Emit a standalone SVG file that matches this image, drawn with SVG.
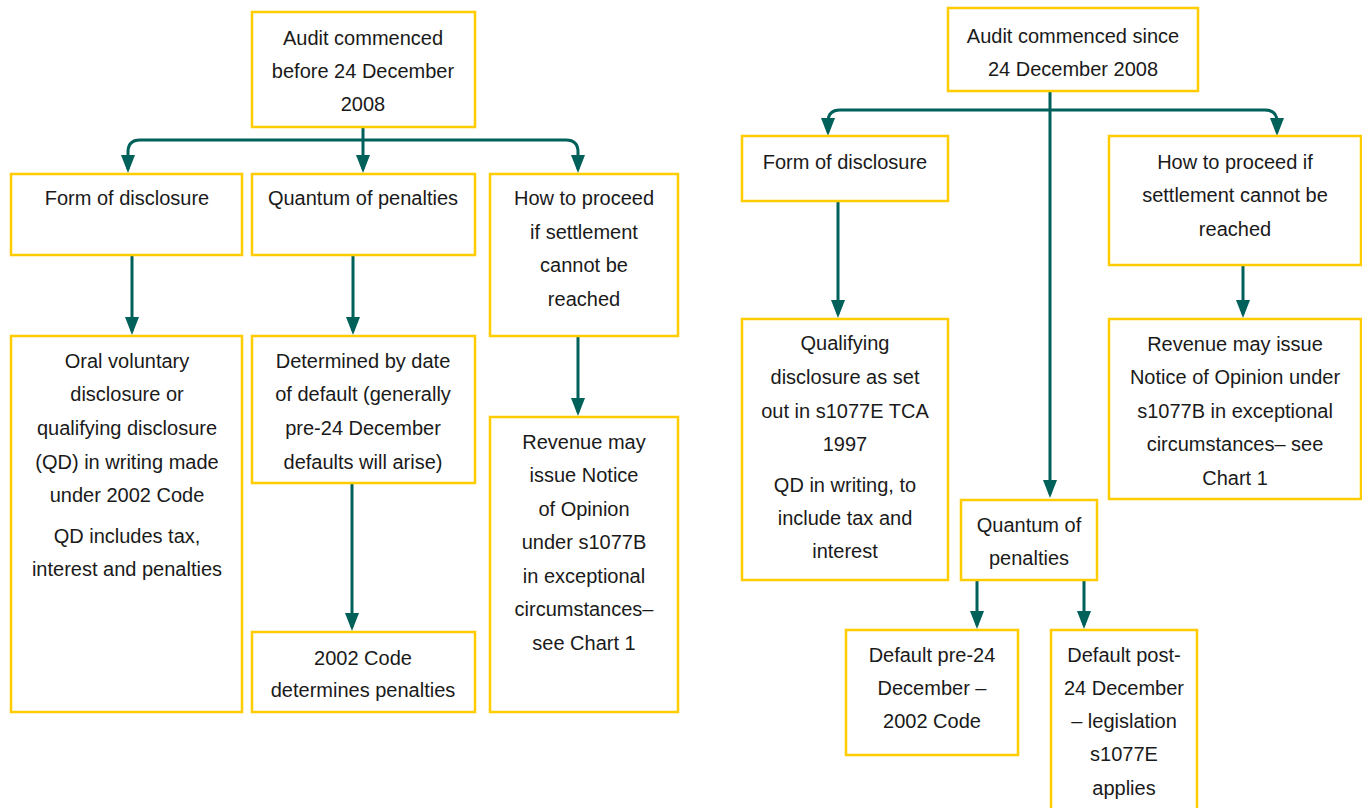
<svg xmlns="http://www.w3.org/2000/svg" width="1362" height="808" viewBox="0 0 1362 808">
<style>
.box{fill:#fff;stroke:#FFCC00;stroke-width:2.5}
.t{font-family:"Liberation Sans",Arial,sans-serif;font-size:20px;fill:#1a1a1a;text-anchor:middle}
.c{fill:none;stroke:#00605A;stroke-width:3;marker-end:url(#ah)}
</style>
<defs>
<marker id="ah" markerUnits="userSpaceOnUse" markerWidth="18" markerHeight="14" refX="14" refY="7" orient="auto">
<path d="M0,0 L18,7 L0,14 z" fill="#00605A"/>
</marker>
</defs>
<rect width="1362" height="808" fill="#fff"/>
<g id="connectors">
<path class="c" d="M363,127 V169"/>
<path class="c" d="M363,140 H140 Q128,140 128,152 V169"/>
<path class="c" d="M363,140 H566 Q578,140 578,152 V169"/>
<path class="c" d="M132,255 V331"/>
<path class="c" d="M353,255 V331"/>
<path class="c" d="M578,336 V412"/>
<path class="c" d="M352,483 V627"/>
<path class="c" d="M1050,91 V494"/>
<path class="c" d="M1050,110 H840 Q828,110 828,122 V132"/>
<path class="c" d="M1050,110 H1265 Q1277,110 1277,122 V132"/>
<path class="c" d="M838,201 V314"/>
<path class="c" d="M1243,265 V314"/>
<path class="c" d="M977,576 V625"/>
<path class="c" d="M1084,576 V625"/>
</g>
<g id="n1"><rect class="box" x="252" y="12" width="223" height="115"/>
<text class="t" x="363" y="45">Audit commenced</text><text class="t" x="363" y="78">before 24 December</text><text class="t" x="363" y="111">2008</text></g>
<g id="n2"><rect class="box" x="11" y="174" width="231" height="81"/>
<text class="t" x="127" y="205">Form of disclosure</text></g>
<g id="n3"><rect class="box" x="252" y="174" width="223" height="81"/>
<text class="t" x="363" y="205">Quantum of penalties</text></g>
<g id="n4"><rect class="box" x="490" y="174" width="188" height="162"/>
<text class="t" x="584" y="205">How to proceed</text><text class="t" x="584" y="239">if settlement</text><text class="t" x="584" y="272">cannot be</text><text class="t" x="584" y="306">reached</text></g>
<g id="n5"><rect class="box" x="11" y="336" width="231" height="376"/>
<text class="t" x="127" y="368">Oral voluntary</text><text class="t" x="127" y="401">disclosure or</text><text class="t" x="127" y="435">qualifying disclosure</text><text class="t" x="127" y="469">(QD) in writing made</text><text class="t" x="127" y="502">under 2002 Code</text><text class="t" x="127" y="543">QD includes tax,</text><text class="t" x="127" y="576">interest and penalties</text></g>
<g id="n6"><rect class="box" x="252" y="336" width="223" height="147"/>
<text class="t" x="363" y="368">Determined by date</text><text class="t" x="363" y="401">of default (generally</text><text class="t" x="363" y="435">pre-24 December</text><text class="t" x="363" y="469">defaults will arise)</text></g>
<g id="n7"><rect class="box" x="252" y="632" width="223" height="80"/>
<text class="t" x="363" y="665">2002 Code</text><text class="t" x="363" y="697">determines penalties</text></g>
<g id="n8"><rect class="box" x="490" y="417" width="188" height="295"/>
<text class="t" x="584" y="449">Revenue may</text><text class="t" x="584" y="482">issue Notice</text><text class="t" x="584" y="516">of Opinion</text><text class="t" x="584" y="549">under s1077B</text><text class="t" x="584" y="583">in exceptional</text><text class="t" x="584" y="616">circumstances–</text><text class="t" x="584" y="650">see Chart 1</text></g>
<g id="m1"><rect class="box" x="948" y="8" width="250" height="83"/>
<text class="t" x="1073" y="43">Audit commenced since</text><text class="t" x="1073" y="76">24 December 2008</text></g>
<g id="m2"><rect class="box" x="742" y="136" width="206" height="65"/>
<text class="t" x="845" y="169">Form of disclosure</text></g>
<g id="m3"><rect class="box" x="1109" y="136" width="252" height="129"/>
<text class="t" x="1235" y="169">How to proceed if</text><text class="t" x="1235" y="202">settlement cannot be</text><text class="t" x="1235" y="236">reached</text></g>
<g id="m4"><rect class="box" x="742" y="319" width="206" height="261"/>
<text class="t" x="845" y="350">Qualifying</text><text class="t" x="845" y="384">disclosure as set</text><text class="t" x="845" y="418">out in s1077E TCA</text><text class="t" x="845" y="451">1997</text><text class="t" x="845" y="492">QD in writing, to</text><text class="t" x="845" y="525">include tax and</text><text class="t" x="845" y="558">interest</text></g>
<g id="m5"><rect class="box" x="1109" y="319" width="252" height="180"/>
<text class="t" x="1235" y="351">Revenue may issue</text><text class="t" x="1235" y="384">Notice of Opinion under</text><text class="t" x="1235" y="418">s1077B in exceptional</text><text class="t" x="1235" y="451">circumstances– see</text><text class="t" x="1235" y="485">Chart 1</text></g>
<g id="m6"><rect class="box" x="961" y="500" width="136" height="80"/>
<text class="t" x="1029" y="532">Quantum of</text><text class="t" x="1029" y="565">penalties</text></g>
<g id="m7"><rect class="box" x="846" y="630" width="172" height="125"/>
<text class="t" x="932" y="662">Default pre-24</text><text class="t" x="932" y="695">December –</text><text class="t" x="932" y="728">2002 Code</text></g>
<g id="m8"><path class="box" d="M1051,810 V630 H1197 V810"/>
<text class="t" x="1124" y="662">Default post-</text><text class="t" x="1124" y="695">24 December</text><text class="t" x="1124" y="728">– legislation</text><text class="t" x="1124" y="761">s1077E</text><text class="t" x="1124" y="795">applies</text></g>
</svg>
